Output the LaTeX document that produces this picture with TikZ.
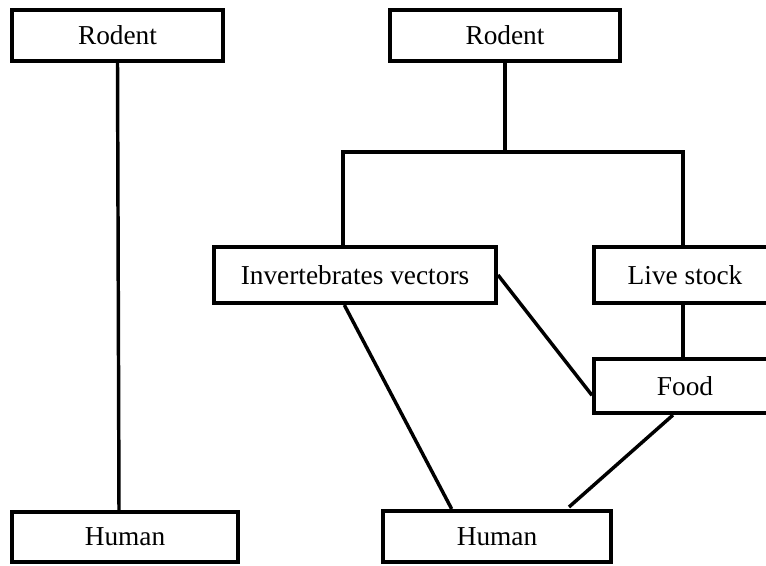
\documentclass[tikz,border=0pt]{standalone}
\usepackage{fontspec}
\setmainfont{Liberation Serif}
\usepackage{tikz}
\usetikzlibrary{calc}

\tikzset{
  box/.style = {draw, line width = 3pt, inner sep = 0pt, font = \fontsize{20.5}{24}\selectfont},
  link/.style = {line width = 2.6pt}
}

\begin{document}
\begin{tikzpicture}[x = .75pt, y = -.75pt]
  \useasboundingbox (0,0) rectangle (766,566);
  \clip (0,0) rectangle (766,566);

  \node[box, minimum width = 158.25pt, minimum height = 38.25pt] (rodentL) at (117.5,35.5) {Rodent};
  \node[box, minimum width = 169.5pt, minimum height = 37.5pt] (humanL) at (125,537) {Human};

  \node[box, minimum width = 172.5pt, minimum height = 38.25pt] (rodentR) at (505,35.5) {Rodent};
  \node[box, minimum width = 211.5pt, minimum height = 42pt] (vectors) at (355,275) {Invertebrates vectors};
  \node[box, minimum width = 136.5pt, minimum height = 42pt] (livestock) at (685,275) {Live stock};
  \node[box, minimum width = 136.5pt, minimum height = 40.5pt] (food) at (685,386) {Food};
  \node[box, minimum width = 171pt, minimum height = 38.25pt] (humanR) at (497,536.5) {Human};

  \coordinate (barL) at (343,152);
  \coordinate (barR) at (683,152);

  \draw[link] (rodentL.south) -- ($(humanL.north)+(-6,0)$);

  \draw[link] (rodentR.south) -- (rodentR.south |- barL);
  \draw[link] (vectors.north -| barL) -- (barL) -- (barR) -- (livestock.north -| barR);
  \draw[link] (livestock.south -| barR) -- (food.north -| barR);
  \draw[link] (vectors.east) -- ([yshift = -7pt]food.west);
  \draw[link] ([xshift = -8pt]vectors.south) -- ([xshift = -34pt]humanR.north);
  \draw[link] ([xshift = -9pt]food.south) -- ([xshift = 54pt, yshift = 1.5pt]humanR.north);
\end{tikzpicture}
\end{document}
